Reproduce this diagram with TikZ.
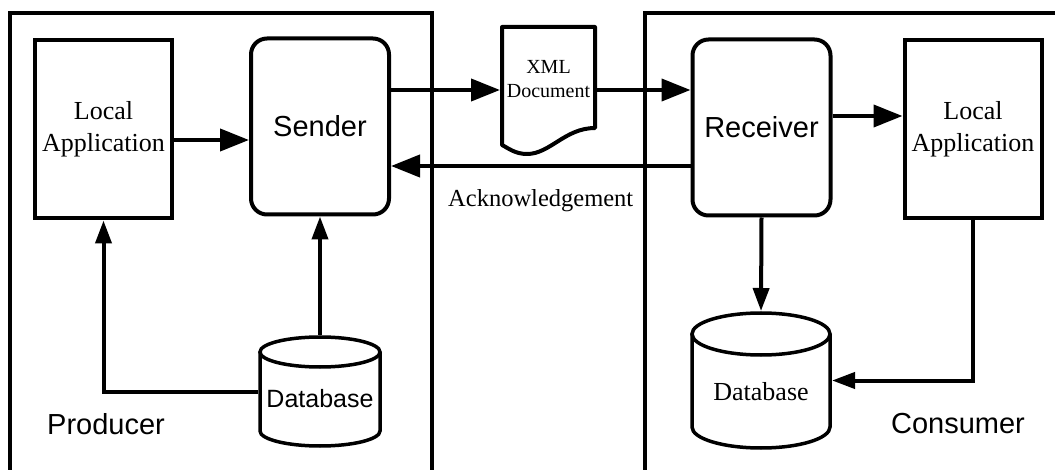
\documentclass[tikz,border=0pt]{standalone}
\usepackage{fontspec}
\setmainfont{Liberation Serif}
\setsansfont{Liberation Sans}
\usetikzlibrary{arrows.meta,calc}

\begin{document}
\begin{tikzpicture}[
    x=1pt, y=1pt,
    framebox/.style={black, line width=4pt},
    appbox/.style={draw, line width=4pt, inner sep=0pt, align=center,
        minimum width=137pt, minimum height=178pt,
        font=\fontsize{26}{32}\selectfont},
    agentbox/.style={draw, line width=4pt, inner sep=0pt, rounded corners=16pt,
        minimum width=138pt, minimum height=176pt,
        font=\sffamily\fontsize{29}{34}\selectfont},
    holder/.style={inner sep=0pt, outer sep=2pt},
    outline/.style={black, line width=4pt, line join=round},
    dbline/.style={black, line width=3.5pt},
    msgarrow/.style={line width=4pt, -{Triangle[length=29pt, width=22pt]}},
    dbarrow/.style={line width=4pt, -{Triangle[length=23pt, width=16pt]}},
    sidelabel/.style={font=\sffamily\fontsize{29}{34}\selectfont},
]

\useasboundingbox (0,0) rectangle (1055,-470);
\clip (0,0) rectangle (1055,-470);

% ── Producer / consumer frames (run off the bottom) ─────────
\draw[framebox] (10,-13) rectangle (432,-490);
\draw[framebox] (645,-13) rectangle (1075,-490);

\node[sidelabel] (prodlbl) at (106,-424) {Producer};
\node[sidelabel] (conslbl) at (958,-424) {Consumer};

% ── Boxes ───────────────────────────────────────────────────
\node[appbox]   (localL)   at (103.5,-129.5) {Local\\Application};
\node[agentbox] (sender)   at (320,-126.5)   {Sender};
\node[agentbox] (receiver) at (761.5,-127.5) {Receiver};
\node[appbox]   (localR)   at (973,-129.5)   {Local\\Application};

% ── XML document ────────────────────────────────────────────
\node[holder, minimum width=93pt, minimum height=127pt,
    label={[align=center, font=\fontsize{20}{24}\selectfont, yshift=11pt]center:XML\\Document}]
    (xml) at (548.5,-90) {};
\begin{scope}[shift={(xml.center)}]
    \draw[outline] (-46.5,63) -- (46.5,63) -- (46.5,-38)
        .. controls (16.5,-38) and (1.5,-64) .. (-21.5,-64)
        .. controls (-33.5,-64) and (-40.5,-58) .. (-46.5,-55) -- cycle;
\end{scope}

% ── Databases ───────────────────────────────────────────────
\node[holder, minimum width=120pt, minimum height=109pt,
    label={[font=\sffamily\fontsize{25}{30}\selectfont, yshift=-7.5pt]center:Database}]
    (dbL) at (320,-391.5) {};
\begin{scope}[shift={(dbL.center)}]
    \draw[dbline] (-60,39.5) -- (-60,-39.5)
        arc[start angle=180, end angle=360, x radius=60, y radius=15] -- (60,39.5);
    \draw[dbline] (0,39.5) ellipse[x radius=60, y radius=15];
\end{scope}

\node[holder, minimum width=138pt, minimum height=135pt,
    label={[font=\fontsize{26}{30}\selectfont, yshift=-11pt]center:Database}]
    (dbR) at (761,-380.5) {};
\begin{scope}[shift={(dbR.center)}]
    \draw[dbline] (-69,46.5) -- (-69,-46.5)
        arc[start angle=180, end angle=360, x radius=69, y radius=21] -- (69,46.5);
    \draw[dbline] (0,46.5) ellipse[x radius=69, y radius=21];
\end{scope}

% ── Message flow ────────────────────────────────────────────
\draw[msgarrow] ([yshift=-10.5pt]localL.east) -- ([yshift=-10.5pt]localL.east -| sender.west);
\draw[msgarrow] (sender.east |- xml.west) -- (xml.west);
\draw[msgarrow] (xml.east) -- (xml.east -| receiver.west);
\draw[msgarrow] ([yshift=-38.5pt]receiver.west) -- ([yshift=-38.5pt]receiver.west -| sender.east)
    node[midway, below=18pt, font=\fontsize{24.5}{28}\selectfont] (acklbl) {Acknowledgement};
\draw[msgarrow] ([yshift=11.5pt]receiver.east) -- ([yshift=11.5pt]receiver.east -| localR.west);

% ── Database links ──────────────────────────────────────────
\draw[dbarrow] (dbL.north) -- (sender.south);
\draw[dbarrow] (dbL.west) -| (localL.south);
\draw[dbarrow] (receiver.south) -- (dbR.north);
\draw[dbarrow] (localR.south) |- (dbR.east);

\end{tikzpicture}
\end{document}
